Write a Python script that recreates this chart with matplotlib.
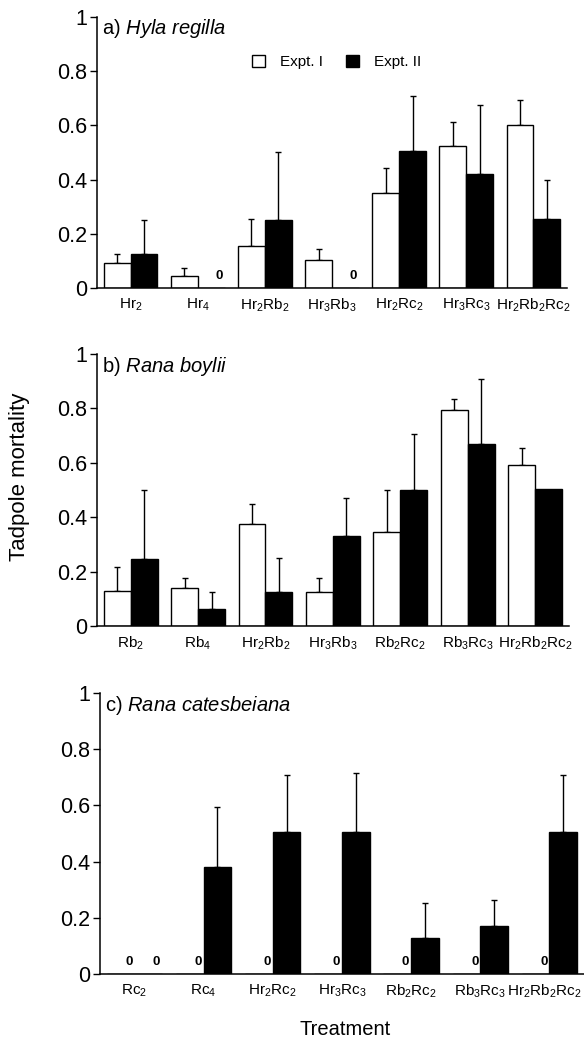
import numpy as np
import matplotlib
matplotlib.use('Agg')
import matplotlib.pyplot as plt
import matplotlib.transforms as mtransforms
from matplotlib.patches import Patch

plt.rcParams['font.family'] = ['Liberation Sans', 'DejaVu Sans']
plt.rcParams['mathtext.fontset'] = 'custom'
plt.rcParams['mathtext.rm'] = 'Liberation Sans'
plt.rcParams['mathtext.it'] = 'Liberation Sans:italic'

# Panel a) Hyla regilla
labels_a = [r'Hr$_2$', r'Hr$_4$', r'Hr$_2$Rb$_2$', r'Hr$_3$Rb$_3$',
            r'Hr$_2$Rc$_2$', r'Hr$_3$Rc$_3$', r'Hr$_2$Rb$_2$Rc$_2$']
expt1_a = [0.095, 0.047, 0.157, 0.106, 0.350, 0.525, 0.600]
err1_a = [0.030, 0.030, 0.097, 0.040, 0.092, 0.087, 0.094]
expt2_a = [0.125, 0.0, 0.252, 0.0, 0.504, 0.422, 0.255]
err2_a = [0.125, 0.0, 0.250, 0.0, 0.205, 0.251, 0.144]

# Panel b) Rana boylii
labels_b = [r'Rb$_2$', r'Rb$_4$', r'Hr$_2$Rb$_2$', r'Hr$_3$Rb$_3$',
            r'Rb$_2$Rc$_2$', r'Rb$_3$Rc$_3$', r'Hr$_2$Rb$_2$Rc$_2$']
expt1_b = [0.128, 0.139, 0.375, 0.125, 0.344, 0.794, 0.591]
err1_b = [0.088, 0.039, 0.072, 0.052, 0.156, 0.042, 0.062]
expt2_b = [0.248, 0.064, 0.124, 0.330, 0.500, 0.671, 0.502]
err2_b = [0.251, 0.060, 0.125, 0.139, 0.207, 0.237, 0.0]

# Panel c) Rana catesbeiana
labels_c = [r'Rc$_2$', r'Rc$_4$', r'Hr$_2$Rc$_2$', r'Hr$_3$Rc$_3$',
            r'Rb$_2$Rc$_2$', r'Rb$_3$Rc$_3$', r'Hr$_2$Rb$_2$Rc$_2$']
expt1_c = [0.0, 0.0, 0.0, 0.0, 0.0, 0.0, 0.0]
err1_c = [0.0, 0.0, 0.0, 0.0, 0.0, 0.0, 0.0]
expt2_c = [0.0, 0.380, 0.504, 0.505, 0.127, 0.169, 0.505]
err2_c = [0.0, 0.214, 0.203, 0.211, 0.126, 0.096, 0.202]

titles = [('a)', 'Hyla regilla'), ('b)', 'Rana boylii'), ('c)', 'Rana catesbeiana')]

# Draw one panel of paired bars with upward error bars
def panel(ax, labels, m1, e1, m2, e2, title):
    x = np.arange(len(labels))
    w = 0.4
    ax.bar(x - w / 2, m1, w, color='white', edgecolor='black', linewidth=1, zorder=2)
    ax.bar(x + w / 2, m2, w, color='black', edgecolor='black', linewidth=1, zorder=2)
    for xs, m, e in ((x - w / 2, m1, e1), (x + w / 2, m2, e2)):
        for xi, mi, ei in zip(xs, m, e):
            if mi > 0 and ei > 0:
                ax.errorbar(xi, mi, yerr=[[0], [ei]], color='black', elinewidth=1,
                            capsize=2.5, capthick=1, zorder=1)
            if mi == 0:
                ax.text(xi + 0.12, 0.022, '0', ha='center', va='bottom',
                        fontsize=9.5, fontweight='bold')
    ax.set_xlim(-0.5, len(labels) - 0.5)
    ax.set_ylim(0, 1)
    ax.set_yticks([0, 0.2, 0.4, 0.6, 0.8, 1])
    ax.set_yticklabels(['0', '0.2', '0.4', '0.6', '0.8', '1'])
    ax.set_xticks(x)
    ax.set_xticklabels(labels, fontsize=11)
    ax.tick_params(axis='x', length=0, pad=6)
    ax.tick_params(axis='y', length=5, width=1, labelsize=15.5, pad=2)
    for s in ('top', 'right'):
        ax.spines[s].set_visible(False)
    for s in ('left', 'bottom'):
        ax.spines[s].set_linewidth(1.1)
    name = title[1].replace(' ', r'\ ')
    ax.text(0.011, 0.955, title[0] + r' $\mathit{' + name + '}$',
            transform=ax.transAxes, fontsize=14.5, va='center', ha='left')


fig = plt.figure(figsize=(5.84, 10.41), dpi=100)
ax_a = fig.add_axes([0.166, 0.7229, 0.805, 0.2612])
ax_b = fig.add_axes([0.166, 0.3987, 0.808, 0.2612])
ax_c = fig.add_axes([0.171, 0.0644, 0.829, 0.2699])

panel(ax_a, labels_a, expt1_a, err1_a, expt2_a, err2_a, titles[0])
panel(ax_b, labels_b, expt1_b, err1_b, expt2_b, err2_b, titles[1])
panel(ax_c, labels_c, expt1_c, err1_c, expt2_c, err2_c, titles[2])

# last label of panel c sits on the right edge, nudge it inside
last = ax_c.get_xticklabels()[-1]
last.set_transform(last.get_transform() +
                   mtransforms.ScaledTranslation(-5 / 100, 0, fig.dpi_scale_trans))

handles = [Patch(facecolor='white', edgecolor='black', linewidth=1),
           Patch(facecolor='black', edgecolor='black', linewidth=1)]
ax_a.legend(handles, ['Expt. I', 'Expt. II'], loc='center', bbox_to_anchor=(0.51, 0.833),
            ncol=2, frameon=False, fontsize=11, handlelength=0.85, handleheight=0.85,
            handletextpad=1.0, columnspacing=1.5)

fig.text(0.033, 0.542, 'Tadpole mortality', rotation=90, ha='center', va='center', fontsize=16)
fig.text(0.591, 0.011, 'Treatment', ha='center', va='center', fontsize=14.5)

fig.savefig('out.png', dpi=100)
